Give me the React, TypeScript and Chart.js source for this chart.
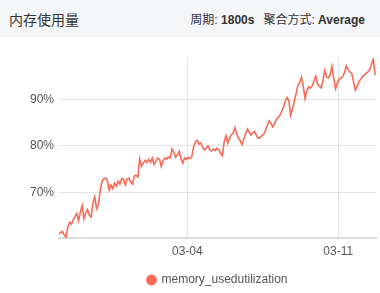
import React, { useEffect, useRef } from "react";
import { Chart, registerables } from "chart.js";

Chart.register(...registerables);

// time axis: hours since 02-26 00:00, one sample every 2 hours
const startHour = 1;
const stepHours = 2;
const xMin = 1.2;
const xMax = 354;
const tickHours = [144, 312];
const tickLabels = ["03-04", "03-11"];
const yTicks = [70, 80, 90];
const yMin = 60.2;
const yMax = 98.9;
const seriesName = "memory_usedutilization";

const memoryValues = [
  61.0, 61.4, 61.6, 60.9, 60.3, 62.5, 63.6, 63.2, 64.1, 64.8,
  65.5, 63.9, 65.8, 67.2, 64.3, 65.6, 66.3, 65.1, 64.7, 67.8,
  69.0, 66.5, 67.3, 70.4, 72.3, 72.9, 73.1, 72.5, 70.5, 71.6,
  70.8, 72.0, 71.3, 72.4, 71.8, 73.0, 72.8, 71.6, 72.9, 73.1,
  72.2, 71.8, 73.5, 73.7, 73.3, 77.2, 75.6, 76.3, 76.9, 76.4,
  77.1, 76.5, 77.4, 76.0, 76.6, 77.4, 77.2, 75.6, 76.8, 77.4,
  77.2, 77.6, 77.4, 79.3, 78.6, 77.6, 78.1, 78.8, 77.2, 76.3,
  77.4, 77.1, 77.5, 77.3, 77.7, 79.8, 80.9, 81.2, 80.4, 80.6,
  79.8, 79.1, 79.6, 80.0, 79.2, 78.9, 79.3, 79.0, 79.5, 79.2,
  78.4, 77.9, 80.8, 82.2, 80.6, 81.7, 82.4, 82.7, 83.9, 82.6,
  81.6, 81.1, 80.3, 81.5, 82.7, 83.6, 82.9, 82.3, 82.8, 83.1,
  82.2, 81.6, 81.8, 82.2, 82.5, 83.3, 84.4, 85.4, 84.9, 84.1,
  84.8, 85.7, 86.1, 86.6, 87.4, 88.3, 89.6, 90.4, 89.8, 86.6,
  87.9, 89.5, 91.2, 93.0, 93.6, 94.8, 92.9, 90.2, 91.8, 92.7,
  92.4, 92.9, 94.0, 95.0, 93.3, 92.8, 92.5, 94.1, 96.2, 94.8,
  94.6, 95.2, 97.1, 94.5, 92.3, 93.6, 94.3, 94.6, 94.9, 95.8,
  97.2, 96.4, 95.9, 95.6, 93.8, 92.0, 92.8, 93.8, 94.3, 94.9,
  95.3, 95.6, 95.9, 96.4, 97.6, 98.7, 95.2,
];

const FONT = '"Helvetica Neue", "Liberation Sans", Arial, "Noto Sans CJK SC", sans-serif';

// center the legend under the plot area rather than the whole canvas
const legendUnderPlot = {
  id: "legendUnderPlot",
  afterLayout(chart: any) {
    const lg = chart.legend;
    if (!lg) return;
    lg.left = chart.chartArea.left;
    lg.right = chart.chartArea.right;
    lg.width = lg.right - lg.left;
  },
};

export default function App() {
  const canvasRef = useRef<HTMLCanvasElement | null>(null);

  useEffect(() => {
    document.body.style.margin = "0";
    const canvas = canvasRef.current;
    if (!canvas) return;
    const points = memoryValues.map((v, i) => ({ x: startHour + i * stepHours, y: v }));
    const chart = new Chart(canvas, {
      type: "line",
      data: {
        datasets: [
          {
            label: seriesName,
            data: points,
            borderColor: "#f86a55",
            backgroundColor: "#f86a55",
            borderWidth: 1.6,
            pointRadius: 0,
            tension: 0,
            fill: false,
          },
        ],
      },
      plugins: [legendUnderPlot],
      options: {
        animation: false,
        responsive: false,
        maintainAspectRatio: false,
        layout: { padding: { top: 21, right: 4, left: 0, bottom: 1 } },
        scales: {
          x: {
            type: "linear",
            min: xMin,
            max: xMax,
            afterBuildTicks: (scale: any) => {
              scale.ticks = tickHours.map((v) => ({ value: v }));
            },
            afterFit: (scale: any) => {
              scale.height = 30;
            },
            ticks: {
              autoSkip: false,
              maxRotation: 0,
              padding: 6,
              color: "#555",
              font: { family: FONT, size: 12 },
              callback: (value: any) => {
                const idx = tickHours.indexOf(Number(value));
                return idx >= 0 ? tickLabels[idx] : "";
              },
            },
            grid: { color: "#e3e3e3", drawTicks: false, lineWidth: 1 },
            border: { display: true, color: "#dcdcdc", width: 2 },
          },
          y: {
            type: "linear",
            min: yMin,
            max: yMax,
            afterBuildTicks: (scale: any) => {
              scale.ticks = yTicks.map((v) => ({ value: v }));
            },
            afterFit: (scale: any) => {
              scale.width = 59;
            },
            ticks: {
              padding: 5,
              color: "#555",
              font: { family: FONT, size: 12 },
              callback: (value: any) => `${value}%`,
            },
            grid: { color: "#e3e3e3", drawTicks: false, lineWidth: 1 },
            border: { display: false },
          },
        },
        plugins: {
          legend: {
            position: "bottom",
            labels: {
              usePointStyle: true,
              pointStyle: "circle",
              boxWidth: 8,
              boxHeight: 6.5,
              padding: 6,
              color: "#555",
              font: { family: FONT, size: 12 },
            },
          },
          tooltip: { enabled: false },
        },
      },
    } as any);
    return () => chart.destroy();
  }, []);

  return (
    <div style={{ width: 380, height: 293, background: "#fff", fontFamily: FONT, overflow: "hidden" }}>
      <div
        style={{
          height: 37,
          background: "#f5f6f8",
          display: "flex",
          alignItems: "center",
          justifyContent: "space-between",
          padding: "0 15px 0 9px",
          boxSizing: "border-box",
        }}
      >
        <span style={{ fontSize: 14, color: "#333" }}>内存使用量</span>
        <span style={{ fontSize: 12, color: "#333" }}>
          周期: <b>1800s</b>
          <span style={{ marginLeft: 9 }}>聚合方式: </span>
          <b>Average</b>
        </span>
      </div>
      <canvas ref={canvasRef} width={380} height={260} style={{ display: "block" }} />
    </div>
  );
}
